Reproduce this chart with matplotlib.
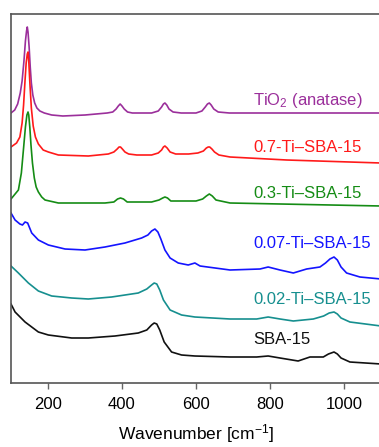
import matplotlib
matplotlib.use('Agg')
import matplotlib.pyplot as plt

plt.rcParams['font.family'] = ['Liberation Sans', 'DejaVu Sans']
plt.rcParams['mathtext.fontset'] = 'custom'
plt.rcParams['mathtext.rm'] = 'Liberation Sans'
plt.rcParams['mathtext.it'] = 'Liberation Sans:italic'

# Raman spectra (offset intensities, arbitrary units)

tio2_x = [100, 110, 118, 125, 130, 135, 139, 142, 144, 146, 149, 152, 155, 159, 164,
          170, 178, 190, 210, 240, 300, 360, 375, 384, 390, 395, 400, 406, 415, 428,
          480, 498, 507, 512, 516, 521, 527, 538, 560, 600, 616, 625, 631, 636, 641,
          648, 660, 690, 800, 1100]
tio2_y = [270, 273, 279, 290, 302, 322, 342, 352, 356, 351, 336, 316, 300, 288, 280,
          275, 272, 270, 268, 267, 268, 270, 271, 274, 277, 279, 277, 274, 271, 270,
          270, 272, 276, 279, 280, 278, 274, 271, 270, 270, 272, 276, 279, 280, 278,
          274, 271, 270, 270, 270]

ti07_x = [100, 115, 124, 130, 134, 138, 141, 144, 146, 148, 151, 155, 160, 166, 174,
          187, 201, 228, 309, 363, 378, 387, 392, 396, 401, 408, 418, 440, 480, 498,
          507, 512, 516, 522, 530, 545, 580, 605, 620, 628, 633, 637, 643, 650, 662,
          692, 845, 1100]
ti07_y = [236, 240, 246, 260, 278, 303, 320, 329, 331, 322, 300, 275, 257, 246, 239,
          233, 231, 228, 227, 229, 231, 234, 236, 236, 234, 231, 229, 228, 228, 230,
          233, 236, 237, 235, 231, 229, 229, 230, 232, 235, 236, 236, 234, 231, 228,
          226, 223, 220]

ti03_x = [100, 120, 128, 134, 139, 143, 146, 148, 151, 154, 158, 163, 168, 174, 183,
          192, 228, 354, 378, 388, 396, 404, 414, 480, 500, 510, 516, 523, 532, 600,
          618, 628, 636, 644, 654, 692, 1100]
ti03_y = [184, 193, 210, 235, 256, 268, 271, 268, 255, 238, 220, 205, 196, 191, 186,
          183, 180, 180, 181, 184, 185, 184, 181, 181, 183, 185, 186, 185, 182, 182,
          184, 187, 189, 187, 183, 180, 177]

ti007_x = [100, 111, 124, 131, 138, 145, 156, 174, 201, 246, 300, 354, 408, 453, 470,
           480, 489, 497, 505, 516, 530, 552, 579, 597, 611, 692, 773, 795, 827, 863,
           899, 935, 950, 962, 973, 982, 992, 1007, 1043, 1100]
ti007_y = [170, 163, 159, 158, 161, 160, 150, 143, 138, 134, 133, 136, 140, 145, 148,
           152, 154, 151, 144, 133, 125, 120, 118, 120, 117, 113, 114, 116, 113, 110,
           114, 116, 120, 124, 126, 123, 116, 110, 106, 104]

ti002_x = [100, 120, 147, 174, 210, 264, 309, 372, 444, 467, 480, 487, 494, 502, 512,
           530, 561, 597, 692, 764, 795, 827, 863, 917, 945, 960, 973, 982, 992, 1016,
           1100]
ti002_y = [117, 110, 100, 92, 87, 85, 84, 86, 90, 94, 98, 100, 99, 93, 83,
           73, 68, 66, 64, 64, 66, 64, 62, 64, 67, 70, 71, 69, 65, 61,
           57]

sba_x = [100, 111, 138, 174, 201, 264, 309, 381, 444, 467, 480, 487, 494, 502, 514,
         534, 561, 597, 692, 764, 795, 827, 876, 908, 944, 958, 973, 982, 992, 1016,
         1100]
sba_y = [79, 71, 61, 51, 48, 45, 45, 47, 50, 53, 58, 60, 59, 53, 41,
         31, 28, 27, 26, 26, 27, 25, 22, 26, 26, 29, 31, 29, 25, 21,
         19]

labels = ['TiO$_2$ (anatase)', '0.7-Ti\u2013SBA-15', '0.3-Ti\u2013SBA-15',
          '0.07-Ti\u2013SBA-15', '0.02-Ti\u2013SBA-15', 'SBA-15']
label_y = [283, 235, 190, 140, 84, 43]
colors = ['#9b2f9b', '#ff1a1a', '#158c15', '#1414ff', '#168f8f', '#111111']

series = [(tio2_x, tio2_y), (ti07_x, ti07_y), (ti03_x, ti03_y),
          (ti007_x, ti007_y), (ti002_x, ti002_y), (sba_x, sba_y)]

fig = plt.figure(figsize=(3.79, 4.47), dpi=100)
ax = fig.add_axes([11/379, 64/447, 370/379, 369/447])

for (x, y), c, lab, ly in zip(series, colors, labels, label_y):
    ax.plot(x, y, color=c, lw=1.2)
    ax.text(754, ly, lab, color=c, fontsize=12, va='center', ha='left')

ax.set_xlim(100, 1100)
ax.set_ylim(0, 369)
ax.set_xticks([200, 400, 600, 800, 1000])
ax.set_yticks([])
ax.tick_params(axis='x', direction='out', length=4, width=1, color='#666666',
               labelsize=12, pad=6)
for s in ax.spines.values():
    s.set_color('#555555')
    s.set_linewidth(1.2)
ax.set_xlabel('Wavenumber [cm$^{-1}$]', fontsize=12.5, labelpad=7)

plt.savefig('out.png', dpi=100)
